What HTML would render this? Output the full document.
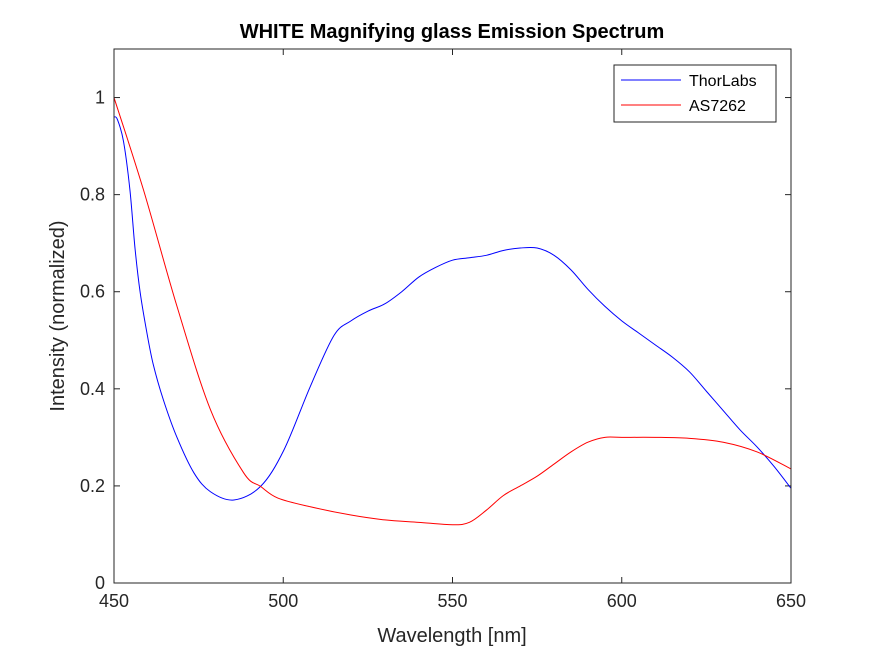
<!DOCTYPE html>
<html><head><meta charset="utf-8"><style>
body{margin:0;background:#fff;}
svg{display:block;font-family:"Liberation Sans",Arial,sans-serif;}
</style></head><body>
<svg id="chart" width="875" height="656" viewBox="0 0 875 656">
<rect x="0" y="0" width="875" height="656" fill="#fff"/>
<text x="452" y="38" text-anchor="middle" font-size="20" font-weight="bold">WHITE Magnifying glass Emission Spectrum</text>
<rect x="114" y="49" width="677" height="534" fill="#fff" stroke="none"/>
<g id="ticks"></g>
<g id="series"></g>
<rect x="114" y="49" width="677" height="534" fill="none" stroke="#262626" stroke-width="1"/>
<text x="452" y="642" text-anchor="middle" font-size="20" fill="#262626">Wavelength [nm]</text>
<text transform="translate(64,316) rotate(-90)" text-anchor="middle" font-size="20" fill="#262626">Intensity (normalized)</text>
<g>
<rect x="614" y="65" width="162" height="57" fill="#fff" stroke="#262626" stroke-width="1"/>
<line x1="621" y1="80" x2="681" y2="80" stroke="#0000ff" stroke-width="1"/>
<text x="689" y="86" font-size="16" fill="#000">ThorLabs</text>
<line x1="621" y1="105" x2="681" y2="105" stroke="#ff0000" stroke-width="1"/>
<text x="689" y="111" font-size="16" fill="#000">AS7262</text>
</g>
</svg>
<script>
const xTicks=[450,500,550,600,650];
const yTicks=[0,0.2,0.4,0.6,0.8,1];
const yTickLabels=["0","0.2","0.4","0.6","0.8","1"];
const thorWl=[450,451,452.8,454.7,456.2,457.7,459.6,461.6,464.6,468.6,473.6,478.5,485.4,493.3,500.2,508,515,520,525,530,535,540,545,550,555,560,565,570,575,580,585,590,595,600,605,610,615,620,625,630,635,640,645,650];
const thorVals=[0.96,0.955,0.91,0.81,0.69,0.6,0.52,0.45,0.377,0.3,0.227,0.188,0.171,0.199,0.274,0.405,0.51,0.54,0.56,0.575,0.6,0.63,0.65,0.665,0.67,0.675,0.685,0.69,0.69,0.675,0.645,0.605,0.57,0.54,0.515,0.49,0.465,0.435,0.395,0.355,0.315,0.28,0.24,0.195];
const asWl=[450,458.7,468.6,478.5,488.3,493.3,498.4,508,520,530,540,550,555,560,565,570,575,580,585,590,595,600,610,620,630,640,650];
const asVals=[1.0,0.81,0.57,0.357,0.227,0.199,0.175,0.157,0.14,0.13,0.125,0.12,0.125,0.15,0.18,0.2,0.22,0.245,0.27,0.29,0.3,0.3,0.3,0.298,0.29,0.27,0.235];
const X0=114,X1=791,Y0=583,Y1=49;
const xs=v=>X0+(v-450)/(650-450)*(X1-X0);
const ys=v=>Y0-(v-0)/(1.1-0)*(Y0-Y1);
const NS="http://www.w3.org/2000/svg";
const tg=document.getElementById('ticks'),sg=document.getElementById('series');
xTicks.forEach(t=>{
 const x=xs(t);
 [[Y0,Y0-6],[Y1,Y1+6]].forEach(p=>{const l=document.createElementNS(NS,'line');l.setAttribute('x1',x);l.setAttribute('x2',x);l.setAttribute('y1',p[0]);l.setAttribute('y2',p[1]);l.setAttribute('stroke','#262626');
 
 tg.appendChild(l);});
 const tx=document.createElementNS(NS,'text');tx.setAttribute('x',x);tx.setAttribute('y',Y0+24);tx.setAttribute('text-anchor','middle');tx.setAttribute('font-size','18');tx.setAttribute('fill','#262626');tx.textContent=t;
 
 tg.appendChild(tx);
});
yTicks.forEach((t,i)=>{
 const y=ys(t);
 [[X0,X0+6],[X1,X1-6]].forEach(p=>{const l=document.createElementNS(NS,'line');l.setAttribute('x1',p[0]);l.setAttribute('x2',p[1]);l.setAttribute('y1',y);l.setAttribute('y2',y);l.setAttribute('stroke','#262626');
 
 tg.appendChild(l);});
 const tx=document.createElementNS(NS,'text');tx.setAttribute('x',X0-9);tx.setAttribute('y',y+6);tx.setAttribute('text-anchor','end');tx.setAttribute('font-size','18');tx.setAttribute('fill','#262626');tx.textContent=yTickLabels[i];
 
 tg.appendChild(tx);
});
function drawLine(wl,vals,color,name){
 const pts=wl.map((w,i)=>[xs(w),ys(vals[i])]);
 let d='M'+pts[0][0]+','+pts[0][1];
 for(let i=0;i<pts.length-1;i++){
  const p0=pts[Math.max(0,i-1)],p1=pts[i],p2=pts[i+1],p3=pts[Math.min(pts.length-1,i+2)];
  const c1=[p1[0]+(p2[0]-p0[0])/6,p1[1]+(p2[1]-p0[1])/6];
  const c2=[p2[0]-(p3[0]-p1[0])/6,p2[1]-(p3[1]-p1[1])/6];
  d+=' C'+c1[0]+','+c1[1]+' '+c2[0]+','+c2[1]+' '+p2[0]+','+p2[1];
 }
 const p=document.createElementNS(NS,'path');
 p.setAttribute('d',d);
 p.setAttribute('fill','none');p.setAttribute('stroke',color);p.setAttribute('stroke-width','1');
 
 
 sg.appendChild(p);
}
drawLine(thorWl,thorVals,'#0000ff','thorlabs-line');
drawLine(asWl,asVals,'#ff0000','as7262-line');
</script>
</body></html>
